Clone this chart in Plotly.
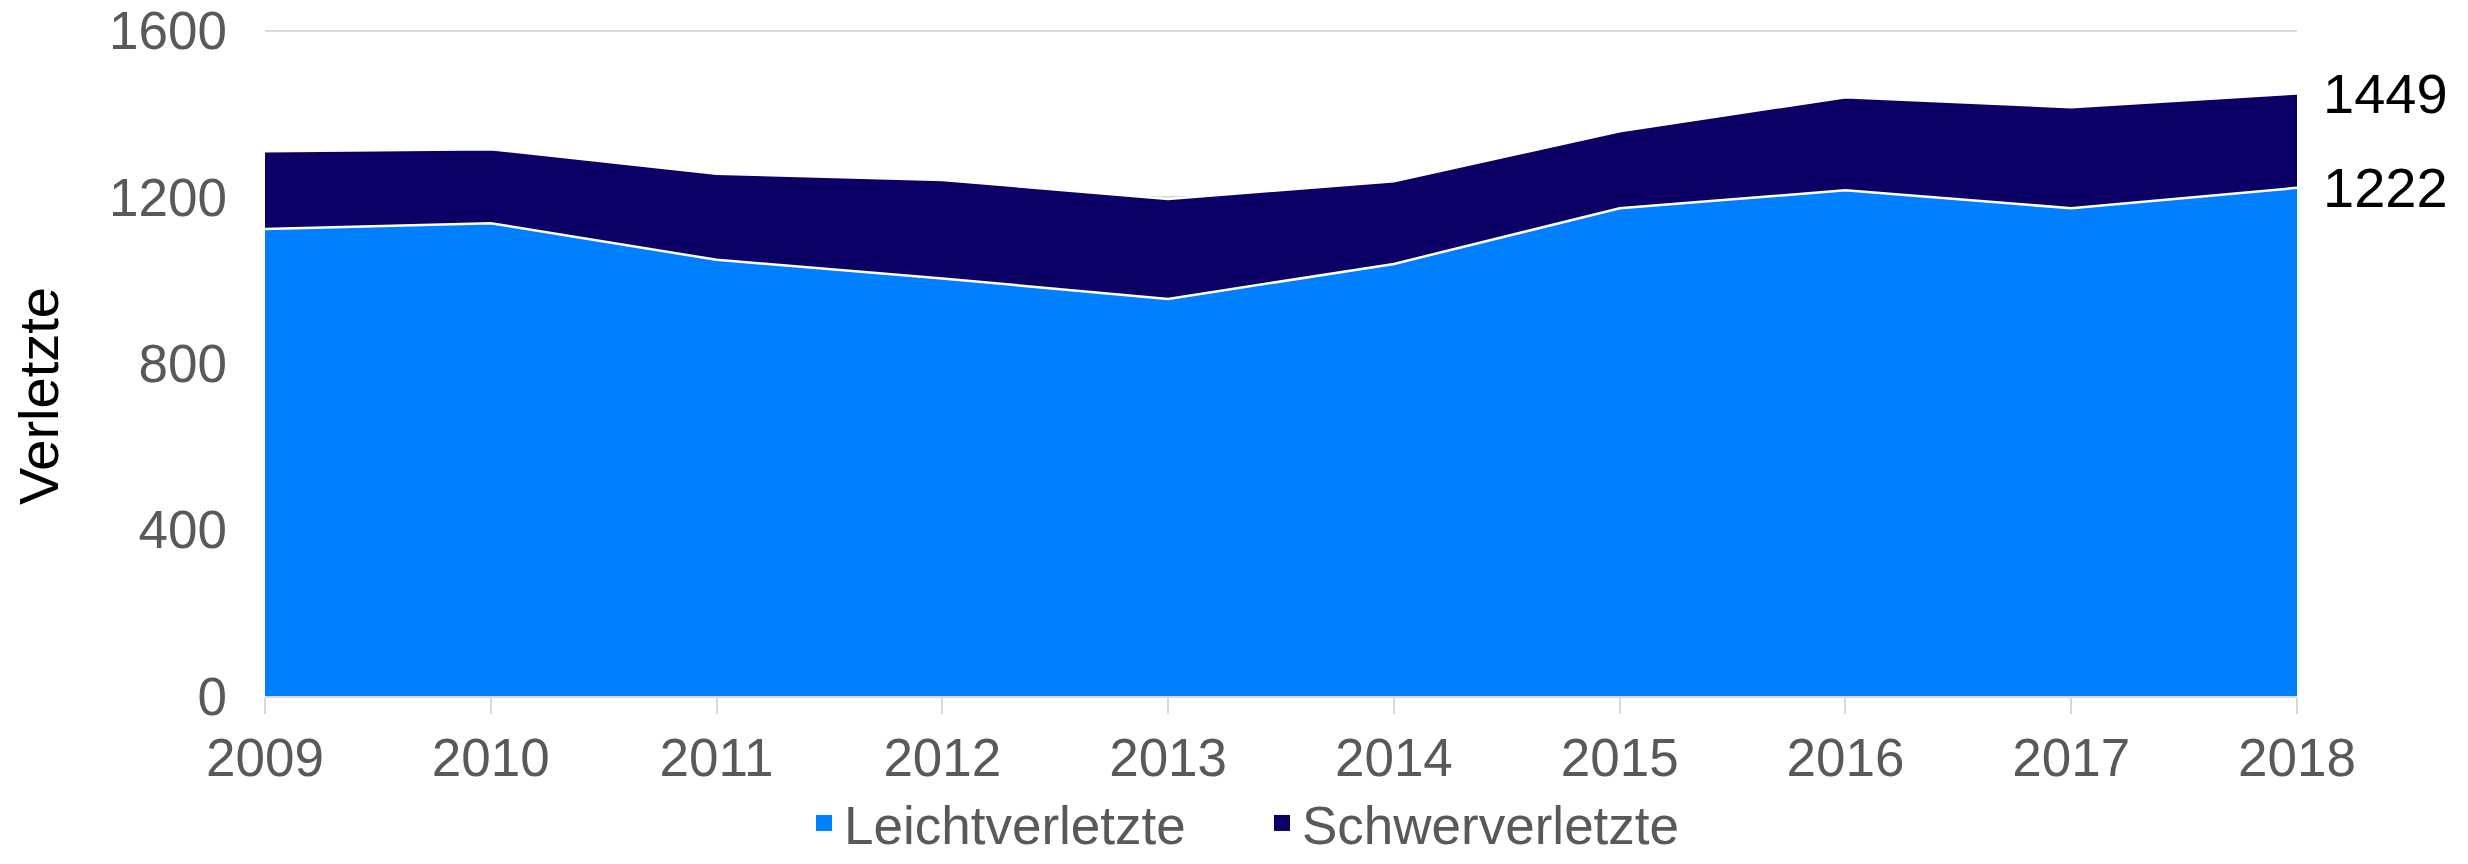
import plotly.graph_objects as go

years = [2009, 2010, 2011, 2012, 2013, 2014, 2015, 2016, 2017, 2018]
leicht = [1123, 1137, 1049, 1004, 955, 1039, 1173, 1216, 1173, 1222]
schwer = [187, 178, 207, 237, 240, 199, 185, 224, 243, 227]
y_ticks = [0, 400, 800, 1200, 1600]
series_names = ["Leichtverletzte", "Schwerverletzte"]
colors = ["#0080FF", "#0C0066"]

FONT = "Liberation Sans, Arial, sans-serif"
OFF = 8  # browser body margin
W, H = 2468 - 2 * OFF, 864 - 2 * OFF
# target plot area in screen px: x 265..2297, y 31..696 (1600 at y=31)
Y_MAX = 1604
px_per_unit = (696 - 31) / 1600
top_screen = 696 - Y_MAX * px_per_unit
L = 265 - OFF
T = round(top_screen) - OFF
R = W - (2297 - OFF)
B = H - (696 - OFF)
pw, ph = W - L - R, H - T - B

fig = go.Figure()
for name, vals, col in zip(series_names, [leicht, schwer], colors):
    fig.add_trace(go.Scatter(
        x=years, y=vals, name=name, stackgroup="one", mode="lines",
        line=dict(color="white", width=2.5), fillcolor=col, showlegend=False,
    ))
# legend proxies
for name, col in zip(series_names, colors):
    fig.add_trace(go.Scatter(
        x=[None], y=[None], name=name, mode="markers",
        marker=dict(symbol="square", size=19, color=col), showlegend=True,
    ))

totals = [a + b for a, b in zip(leicht, schwer)]
for val in [totals[-1], leicht[-1]]:
    fig.add_annotation(x=years[-1], y=val, xref="x", yref="y", text=str(val),
                       showarrow=False, xanchor="left", yanchor="middle", xshift=24,
                       font=dict(family=FONT, size=56, color="black"))

fig.add_annotation(x=(38 - 265) / pw, y=(696 - 396) / ph, xref="paper", yref="paper",
                   text="Verletzte", textangle=-90, showarrow=False,
                   xanchor="center", yanchor="middle",
                   font=dict(family=FONT, size=56, color="black"))

fig.update_layout(
    width=W, height=H,
    margin=dict(l=L, r=R, t=T, b=B, autoexpand=False),
    paper_bgcolor="white", plot_bgcolor="white",
    font=dict(family=FONT, size=53, color="#595959"),
    showlegend=True,
    legend=dict(orientation="h", traceorder="normal",
                x=(804 - 265) / pw, xanchor="left",
                y=-(B + 8) / ph, yanchor="bottom",
                entrywidth=413, entrywidthmode="pixels",
                font=dict(family=FONT, size=53, color="#595959"),
                itemsizing="trace", bgcolor="rgba(0,0,0,0)"),
    xaxis=dict(range=[2009, 2018], tickvals=years, ticktext=[str(y) for y in years],
               showgrid=False, zeroline=False, showline=True, linecolor="#d9d9d9",
               linewidth=2, ticks="outside", ticklen=16, tickwidth=2, tickcolor="#d9d9d9",
               tickfont=dict(family=FONT, size=53, color="#595959"), ticklabelstandoff=-2),
    yaxis=dict(range=[0, Y_MAX], tickvals=y_ticks, showgrid=True, gridcolor="#d9d9d9",
               gridwidth=2, zeroline=False, showline=False, ticks="",
               ticklabeloverflow="allow",
               tickfont=dict(family=FONT, size=53, color="#595959"), ticklabelstandoff=37),
)

fig.write_html("out.html")
